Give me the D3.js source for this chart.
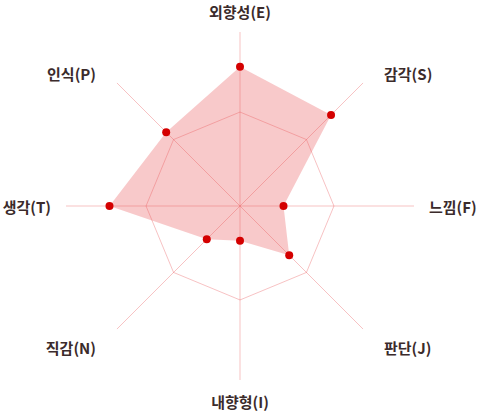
<!DOCTYPE html>
<html><head><meta charset="utf-8">
<script src="https://cdn.jsdelivr.net/npm/d3@7"></script>
<style>
html,body{margin:0;padding:0;background:#fff;}
svg{display:block;}
text{font-family:"Noto Sans CJK KR","Noto Sans",sans-serif;font-weight:700;}
</style></head>
<body>
<svg id="chart" width="481" height="411"></svg>
<script>
const categories = ["외향성(E)","감각(S)","느낌(F)","판단(J)","내향형(I)","직감(N)","생각(T)","인식(P)"];
const values = [80, 74, 25, 40, 20, 27, 75, 60];
const gridLevels = [54];
const maxValue = 100;

const W = 481, H = 411, cx = 240, cy = 206, R = 174;
const svg = d3.select("#chart");
const r = d3.scaleLinear().domain([0, maxValue]).range([0, R]);
const angle = d3.scaleLinear().domain([0, categories.length]).range([0, 2*Math.PI]);
const pt = (i, v) => [cx + Math.sin(angle(i))*r(v), cy - Math.cos(angle(i))*r(v)];

const lineColor = "rgba(232,80,82,0.35)";

// data area
const line = d3.line().curve(d3.curveLinearClosed);
svg.append("path")
  .attr("d", line(values.map((v,i)=>pt(i,v))))
  .attr("fill", "rgba(231,76,80,0.3)")
  .attr("stroke", "none");

// grid rings
gridLevels.forEach(g => {
  svg.append("path")
    .attr("d", line(categories.map((c,i)=>pt(i,g))))
    .attr("fill","none").attr("stroke", lineColor).attr("stroke-width",1);
});

// axes
categories.forEach((c,i)=>{
  const [x,y] = pt(i, maxValue);
  svg.append("line").attr("x1",cx).attr("y1",cy).attr("x2",x).attr("y2",y)
    .attr("stroke", lineColor).attr("stroke-width",1);
});

// points
svg.selectAll("circle.pt").data(values).enter().append("circle")
  .attr("class","pt")
  .attr("cx",(v,i)=>pt(i,v)[0]).attr("cy",(v,i)=>pt(i,v)[1])
  .attr("r",4).attr("fill","#d40000");

// labels
categories.forEach((c,i)=>{
  const s = Math.sin(angle(i)), co = Math.cos(angle(i));
  let x, y, anchor;
  if (Math.abs(s) < 0.1) { // top/bottom
    x = cx; y = cy - co*195; anchor = "middle";
  } else if (Math.abs(co) < 0.1) {
    x = cx + s*189; y = cy; anchor = s>0 ? "start":"end";
  } else {
    x = cx + Math.sign(s)*144; anchor = s>0 ? "start":"end";
    y = co > 0 ? cy - 133 : cy + 141;
  }
  svg.append("text").attr("x",x).attr("y",y)
    .attr("text-anchor",anchor).attr("dominant-baseline","central")
    .attr("font-size",15).attr("fill","#3b2b2b").text(c);
});
</script>
</body></html>
